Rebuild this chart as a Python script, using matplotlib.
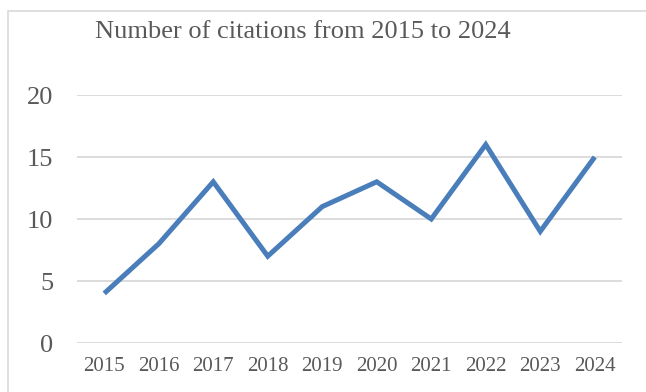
import matplotlib.pyplot as plt
from matplotlib.patches import Rectangle

# Citation counts per year
years = ["2015", "2016", "2017", "2018", "2019", "2020", "2021", "2022", "2023", "2024"]
citations = [4, 8, 13, 7, 11, 13, 10, 16, 9, 15]
y_ticks = [0, 5, 10, 15, 20]

plt.rcParams['font.family'] = ['Liberation Serif', 'DejaVu Serif']
grey = '#595959'
grid_c = '#D9D9D9'

fig = plt.figure(figsize=(6.46, 3.92), dpi=100)
W, H = 646, 392

# chart frame (only top and left edges show inside the canvas)
fig.patches.append(Rectangle((8 / W, -0.1), 1.0, (392 - 11) / H + 0.1,
                             transform=fig.transFigure, fill=False,
                             edgecolor=grid_c, linewidth=1.2))

ax = fig.add_axes([77 / W, (H - 343) / H, (622 - 77) / W, (343 - 95) / H])
x = range(len(years))
ax.plot(x, citations, color='#4A7EBB', linewidth=3.6, solid_joinstyle='miter',
        solid_capstyle='butt')

ax.set_xlim(-0.5, len(years) - 0.5)
ax.set_ylim(0, 20)
ax.set_yticks(y_ticks)
ax.set_xticks(list(x))
ax.set_xticklabels(years)
ax.tick_params(axis='x', length=0, labelsize=15, labelcolor=grey, pad=10)
ax.tick_params(axis='y', length=0, labelsize=19, labelcolor=grey, pad=17)
ax.grid(axis='y', color=grid_c, linewidth=1.3)
ax.set_axisbelow(True)
for s in ax.spines.values():
    s.set_visible(False)

fig.text(95 / W, 1 - 32 / H, "Number of citations from 2015 to 2024",
         fontsize=19, color=grey, va='center', ha='left')

fig.savefig("out.png", dpi=100)
